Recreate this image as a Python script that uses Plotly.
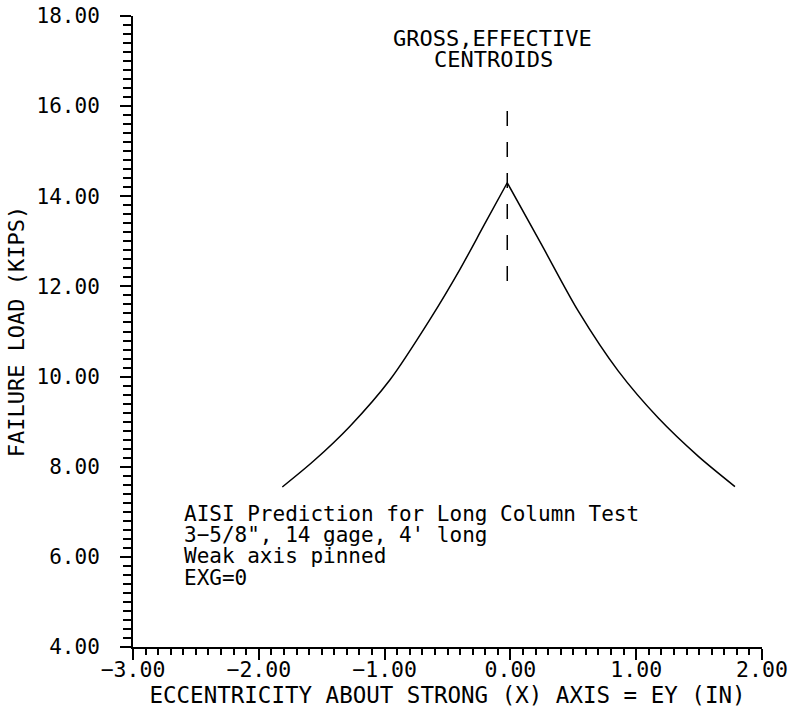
import plotly.graph_objects as go

# Data
ey_left = [-1.813, -1.567, -1.275, -0.957, -0.639, -0.401, -0.215, -0.025]
load_left = [7.55, 8.12, 8.90, 9.93, 11.27, 12.38, 13.33, 14.30]
ey_right = [-0.025, 0.249, 0.540, 0.858, 1.176, 1.494, 1.785]
load_right = [14.30, 12.92, 11.45, 10.12, 9.08, 8.23, 7.56]

centroid_x = [-0.025, -0.025]
centroid_y = [15.89, 12.09]

x_ticks = [-3, -2, -1, 0, 1, 2]
y_ticks = [4, 6, 8, 10, 12, 14, 16, 18]

note_lines = ["AISI Prediction for Long Column Test",
              "3\u22125/8\", 14 gage, 4' long",
              "Weak axis pinned",
              "EXG=0"]
header_lines = ["GROSS,EFFECTIVE", "CENTROIDS"]

FONT = "DejaVu Sans Mono"
fig = go.Figure()
line_style = dict(color="black", width=1.5, shape="spline", smoothing=0.8)
fig.add_trace(go.Scatter(x=ey_left, y=load_left, mode="lines", line=line_style, showlegend=False))
fig.add_trace(go.Scatter(x=ey_right, y=load_right, mode="lines", line=line_style, showlegend=False))
fig.add_trace(go.Scatter(x=centroid_x, y=centroid_y, mode="lines",
                         line=dict(color="black", width=1.5, dash="15px,16px"), showlegend=False))


def py_to_y(py):
    return 18 - (py - 16) / 45.07


def px_to_x(px):
    return -3 + (px - 133) / 125.8


anns = []
for txt, py in zip(note_lines, [514, 535, 556, 578]):
    anns.append(dict(x=px_to_x(182), y=py_to_y(py), xref="x", yref="y", text=txt,
                     showarrow=False, xanchor="left", yanchor="middle",
                     font=dict(family=FONT, size=21, color="black")))
for txt, px, py in zip(header_lines, [492.5, 493], [38.7, 59.5]):
    anns.append(dict(x=px_to_x(px), y=py_to_y(py), xref="x", yref="y", text=txt,
                     showarrow=False, xanchor="center", yanchor="middle",
                     font=dict(family=FONT, size=22, color="black")))

fig.update_layout(
    width=788, height=713,
    margin=dict(l=133, r=26, t=16, b=66),
    paper_bgcolor="white", plot_bgcolor="white",
    font=dict(family=FONT, size=21, color="black"),
    annotations=anns,
    xaxis=dict(range=[-3, 2], tickvals=x_ticks, tickformat=".2f", automargin=False,
               showline=True, linecolor="black", linewidth=2,
               ticks="outside", ticklen=11, tickwidth=1.5, tickcolor="black",
               ticklabelstandoff=-9,
               minor=dict(dtick=0.1, ticks="outside", ticklen=6, tickwidth=1.5,
                          tickcolor="black", showgrid=False),
               showgrid=False, zeroline=False,
               title=dict(text="ECCENTRICITY ABOUT STRONG (X) AXIS = EY (IN)", standoff=0,
                          font=dict(family=FONT, size=22.5)),
               tickfont=dict(family=FONT, size=21.5)),
    yaxis=dict(range=[4, 18], tickvals=y_ticks, tickformat=".2f", automargin=False,
               showline=True, linecolor="black", linewidth=2,
               ticks="outside", ticklen=11, tickwidth=1.5, tickcolor="black",
               ticklabelstandoff=16,
               minor=dict(dtick=0.2, ticks="outside", ticklen=8, tickwidth=1.5,
                          tickcolor="black", showgrid=False),
               showgrid=False, zeroline=False,
               title=dict(text="FAILURE LOAD (KIPS)", standoff=6, font=dict(family=FONT, size=22)),
               tickfont=dict(family=FONT, size=21)),
)

fig.write_html("out.html")
